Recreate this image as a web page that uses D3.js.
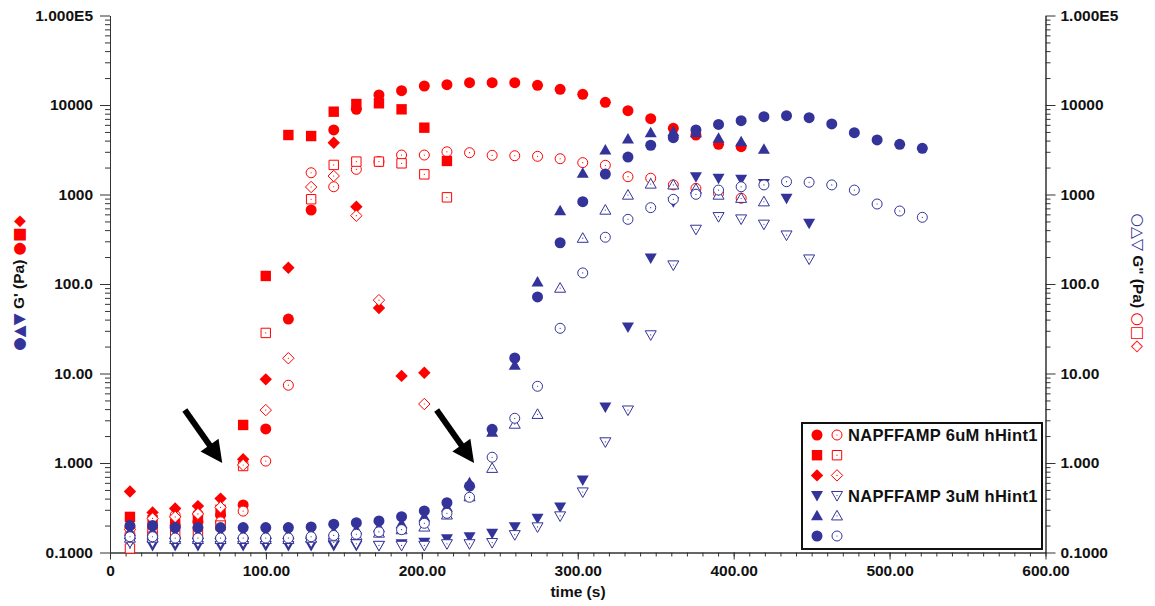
<!DOCTYPE html>
<html>
<head>
<meta charset="utf-8"/>
<title>G' G'' vs time</title>
<script src="https://d3js.org/d3.v7.min.js"></script>
<style>
    body { margin: 0; background: #fff; }
    text { font-family: "Liberation Sans", Arial, sans-serif; font-weight: bold; }
</style>
</head>
<body>
<svg id="chart" width="1155" height="606"></svg>
<script>
// sample times (s)
var time = [12.8, 27.3, 41.8, 56.4, 70.9, 85.4, 99.9, 114.4, 129.0, 143.5, 158.0, 172.5,
    187.0, 201.6, 216.1, 230.6, 245.1, 259.6, 274.2, 288.7, 303.2, 317.7, 332.2, 346.8,
    361.3, 375.8, 390.3, 404.8, 419.4, 433.9, 448.4, 462.9, 477.4, 492.0, 506.5, 521.0];

// NAPFFAMP 6uM hHint1 (red): G' filled, G'' open
var gp6a  = [0.19, 0.19, 0.2, 0.22, 0.26, 0.34, 2.4, 40.6, 671, 5260, 8950, 12940, 14450, 16300,
    16870, 17740, 17740, 17740, 16600, 14980, 13180, 10720, 8630, 7030, 5490, 4620, 3640, 3420];
var gpp6a = [0.16, 0.17, 0.26, 0.27, 0.22, 0.29, 1.05, 7.4, 1750, 1220, 1910, 2330, 2760, 2760,
    3000, 2930, 2740, 2710, 2670, 2510, 2270, 2120, 1580, 1520, 1280, 1170, 1030, 908];
var gp6b  = [0.25, 0.23, 0.21, 0.24, 0.3, 2.66, 123, 4620, 4500, 8420, 10260, 10450, 8950, 5580, 2370];
var gpp6b = [0.111, 0.15, 0.16, 0.17, 0.2, 0.925, 28.4, null, 885, 2140, 2330, 2330, 2230, 1680, 930];
var gp6c  = [0.48, 0.28, 0.31, 0.33, 0.4, 1.1, 8.6, 152, null, 3790, 731, 54, 9.4, 10.2];
var gpp6c = [0.18, 0.24, 0.25, 0.27, 0.32, 0.95, 3.9, 14.8, 1213, 1610, 580, 66, null, 4.56];

// NAPFFAMP 3uM hHint1 (blue)
var gp3a  = [0.13, 0.12, 0.12, 0.12, 0.12, 0.12, 0.12, 0.12, 0.12, 0.12, 0.12, 0.12, 0.125, 0.13,
    0.142, 0.15, 0.164, 0.194, 0.241, 0.322, 0.646, 4.23, 33, 195, 830, 1580, 1520, 1480, 1330, 908, 476];
var gpp3a = [0.13, 0.13, 0.13, 0.13, 0.13, 0.13, 0.13, 0.13, 0.13, 0.13, 0.125, 0.12, 0.12, 0.12,
    0.125, 0.125, 0.129, 0.158, 0.193, 0.256, 0.474, 1.72, 3.9, 27, 163, 408, 565, 532, 465, 352, 190];
var gp3b  = [0.17, 0.17, 0.16, 0.16, 0.16, 0.16, 0.16, 0.16, 0.165, 0.17, 0.18, 0.19, 0.21, 0.25,
    0.32, 0.6, 2.2, 12.4, 105, 659, 1725, 3140, 4170, 4910, 5040, 4910, 4250, 3890, 3200];
var gpp3b = [0.145, 0.145, 0.14, 0.14, 0.14, 0.14, 0.14, 0.14, 0.145, 0.15, 0.155, 0.165, 0.18, 0.193,
    0.263, 0.42, 0.873, 2.72, 3.5, 90, 325, 670, 986, 1310, 1280, 1150, 986, 908, 830];
var gp3c  = [0.2, 0.2, 0.19, 0.19, 0.19, 0.19, 0.19, 0.19, 0.193, 0.207, 0.215, 0.225, 0.251, 0.291,
    0.36, 0.553, 2.38, 14.9, 71.6, 289, 831, 1690, 2620, 3550, 4310, 5260, 6060, 6680, 7400, 7600,
    7220, 6140, 4910, 4070, 3640, 3280];
var gpp3c = [0.15, 0.15, 0.145, 0.145, 0.145, 0.145, 0.145, 0.145, 0.15, 0.155, 0.16, 0.17, 0.18, 0.212,
    0.274, 0.414, 1.16, 3.16, 7.2, 32, 133, 333, 528, 713, 883, 1005, 1120, 1220, 1280, 1390,
    1370, 1280, 1120, 783, 654, 556];

var xTicks = [0, 100, 200, 300, 400, 500, 600];
var xTickLabels = ["0", "100.00", "200.00", "300.00", "400.00", "500.00", "600.00"];
var yTicks = [0.1, 1, 10, 100, 1000, 10000, 100000];
var yTickLabels = ["0.1000", "1.000", "10.00", "100.0", "1000", "10000", "1.000E5"];
var legendNames = ["NAPFFAMP 6uM hHint1", "", "", "NAPFFAMP 3uM hHint1", "", ""];

// arrows: [t tail, value tail, t tip, value tip]
var arrows = [[48, 3.9, 72, 1.0], [209.5, 3.9, 233.5, 1.0]];

var red = "#ff0000", blue = "#333399", axisColor = "#333";

var svg = d3.select("#chart");
var x = d3.scaleLinear().domain([0, 600]).range([110, 1045.5]);
var y = d3.scaleLog().domain([0.1, 100000]).range([552.5, 15.5]);

function shape(kind, filled) {
    var r;
    if (kind == "circle") {
        r = filled ? 5.5 : 5;
        return "M" + r + ",0A" + r + "," + r + " 0 1,1 " + (-r) + ",0A" + r + "," + r + " 0 1,1 " + r + ",0Z";
    } else if (kind == "square") {
        r = filled ? 5.2 : 4.7;
        return "M" + (-r) + "," + (-r) + "H" + r + "V" + r + "H" + (-r) + "Z";
    } else if (kind == "diamond") {
        r = filled ? 6.2 : 5.7;
        return "M0," + (-r) + "L" + r + ",0L0," + r + "L" + (-r) + ",0Z";
    } else if (kind == "up") {
        r = filled ? 6 : 5.5;
        return "M0," + (-r) + "L" + r + "," + (r * 0.75) + "L" + (-r) + "," + (r * 0.75) + "Z";
    } else {
        r = filled ? 6 : 5.5;
        return "M0," + r + "L" + r + "," + (-r * 0.75) + "L" + (-r) + "," + (-r * 0.75) + "Z";
    }
}

var series = [
    {vals: gp6a, kind: "circle", color: red, filled: true},
    {vals: gpp6a, kind: "circle", color: red, filled: false},
    {vals: gp6b, kind: "square", color: red, filled: true},
    {vals: gpp6b, kind: "square", color: red, filled: false},
    {vals: gp6c, kind: "diamond", color: red, filled: true},
    {vals: gpp6c, kind: "diamond", color: red, filled: false},
    {vals: gp3a, kind: "down", color: blue, filled: true},
    {vals: gpp3a, kind: "down", color: blue, filled: false},
    {vals: gp3b, kind: "up", color: blue, filled: true},
    {vals: gpp3b, kind: "up", color: blue, filled: false},
    {vals: gp3c, kind: "circle", color: blue, filled: true},
    {vals: gpp3c, kind: "circle", color: blue, filled: false}
];

function drawMarker(sel, s) {
    sel.append("path")
        .attr("d", shape(s.kind, s.filled))
        .attr("fill", s.filled ? s.color : "white")
        .attr("stroke", s.filled ? "none" : s.color)
        .attr("stroke-width", 1);
    if (!s.filled) {
        sel.append("circle").attr("r", 0.6).attr("fill", s.color);
    }
}

// axes
var xAxis = svg.append("g").attr("transform", "translate(0,552.5)")
    .call(d3.axisBottom(x).tickValues(xTicks).tickSize(7).tickSizeOuter(0)
        .tickFormat(function(d, i) { return xTickLabels[i]; }));
var xMinor = svg.append("g").attr("transform", "translate(0,552.5)")
    .call(d3.axisBottom(x).tickValues(d3.range(0, 601, 10)).tickSize(4).tickSizeOuter(0).tickFormat(""));

var minorY = [];
yTicks.slice(0, 6).forEach(function(d) {
    for (var k = 2; k < 10; k++) minorY.push(d * k);
});

var yLeft = svg.append("g").attr("transform", "translate(110,0)")
    .call(d3.axisLeft(y).tickValues(yTicks).tickSize(10).tickSizeOuter(0)
        .tickFormat(function(d, i) { return yTickLabels[i]; }));
var yLeftMinor = svg.append("g").attr("transform", "translate(110,0)")
    .call(d3.axisLeft(y).tickValues(minorY).tickSize(5).tickSizeOuter(0).tickFormat(""));
var yRight = svg.append("g").attr("transform", "translate(1045.5,0)")
    .call(d3.axisRight(y).tickValues(yTicks).tickSize(10).tickSizeOuter(0)
        .tickFormat(function(d, i) { return yTickLabels[i]; }));
var yRightMinor = svg.append("g").attr("transform", "translate(1045.5,0)")
    .call(d3.axisRight(y).tickValues(minorY).tickSize(5).tickSizeOuter(0).tickFormat(""));

svg.selectAll(".domain, .tick line").attr("stroke", axisColor);
svg.selectAll(".tick text")
    .attr("fill", "#111")
    .style("font-size", "15.5px")
    .style("font-family", "'Liberation Sans', Arial, sans-serif")
    .style("font-weight", "bold");
xAxis.selectAll(".tick text").attr("dy", "0.9em");
yLeft.selectAll(".tick text").attr("x", -17);
yRight.selectAll(".tick text").attr("x", 15);

// points
series.forEach(function(s) {
    var pts = s.vals.map(function(v, i) { return {t: time[i], v: v}; })
        .filter(function(p) { return p.v != null; });
    svg.append("g").selectAll("g")
        .data(pts)
        .enter().append("g")
        .attr("transform", function(p) { return "translate(" + x(p.t) + "," + y(p.v) + ")"; })
        .each(function() { drawMarker(d3.select(this), s); });
});

// arrows
arrows.forEach(function(a) {
    var x1 = x(a[0]), y1 = y(a[1]), x2 = x(a[2]), y2 = y(a[3]);
    var ang = Math.atan2(y2 - y1, x2 - x1);
    var len = Math.sqrt((x2 - x1) * (x2 - x1) + (y2 - y1) * (y2 - y1));
    var g = svg.append("g").attr("transform", "translate(" + x1 + "," + y1 + ") rotate(" + (ang * 180 / Math.PI) + ")");
    g.append("line").attr("x1", 0).attr("y1", 0).attr("x2", len - 16).attr("y2", 0)
        .attr("stroke", "black").attr("stroke-width", 6);
    g.append("path").attr("d", "M" + len + ",0L" + (len - 22) + ",-11L" + (len - 22) + ",11Z").attr("fill", "black");
});

// legend
var leg = svg.append("g");
leg.append("rect").attr("x", 802).attr("y", 423).attr("width", 240).attr("height", 126)
    .attr("fill", "white").attr("stroke", "#111").attr("stroke-width", 2);
for (var i = 0; i < 6; i++) {
    var ry = 435 + i * 20.2;
    var fs = series[i * 2], os = series[i * 2 + 1];
    drawMarker(leg.append("g").attr("transform", "translate(817," + ry + ")"), fs);
    drawMarker(leg.append("g").attr("transform", "translate(837," + ry + ")"), os);
    if (legendNames[i]) {
        leg.append("text").attr("x", 848).attr("y", ry + 6)
            .style("font-size", "16.5px").style("letter-spacing", "0.3px")
            .attr("fill", "#111").text(legendNames[i]);
    }
}

// axis titles
svg.append("text").attr("x", 578).attr("y", 597).attr("text-anchor", "middle")
    .style("font-size", "15.5px").attr("fill", "#111").text("time (s)");

var lt = svg.append("text").attr("text-anchor", "middle")
    .attr("transform", "translate(24,283) rotate(-90)")
    .style("font-size", "15.5px").attr("fill", "#111");
lt.append("tspan").attr("fill", blue).style("font-family", "DejaVu Sans").text("●▲▼");
lt.append("tspan").text(" G' (Pa) ");
lt.append("tspan").attr("fill", red).style("font-family", "DejaVu Sans").text("●■◆");

var rt = svg.append("text").attr("text-anchor", "middle")
    .attr("transform", "translate(1133,283) rotate(90)")
    .style("font-size", "15.5px").attr("fill", "#111");
rt.append("tspan").attr("fill", blue).style("font-family", "DejaVu Sans").style("font-weight", "normal").text("○△▽");
rt.append("tspan").text(" G\" (Pa) ");
rt.append("tspan").attr("fill", red).style("font-family", "DejaVu Sans").style("font-weight", "normal").text("○□◇");
</script>
</body>
</html>
